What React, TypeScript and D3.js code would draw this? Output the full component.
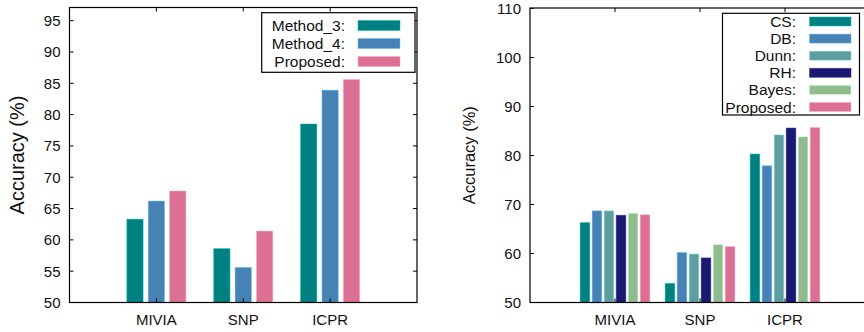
import React from 'react';
import * as d3 from 'd3';

const categories = ['MIVIA', 'SNP', 'ICPR'];

const leftSeries = ['Method_3', 'Method_4', 'Proposed'];
const leftColors = ['#008080', '#4682b4', '#db7093'];
const leftValues = [
  [63.3, 58.6, 78.5],
  [66.2, 55.6, 83.9],
  [67.8, 61.4, 85.6],
];
const leftTicks = [50, 55, 60, 65, 70, 75, 80, 85, 90, 95];

const rightSeries = ['CS', 'DB', 'Dunn', 'RH', 'Bayes', 'Proposed'];
const rightColors = ['#008080', '#4682b4', '#5f9ea0', '#191970', '#8fbc8f', '#db7093'];
const rightValues = [
  [66.3, 53.9, 80.3],
  [68.7, 60.2, 77.9],
  [68.7, 59.9, 84.2],
  [67.8, 59.1, 85.6],
  [68.2, 61.8, 83.8],
  [67.9, 61.4, 85.7],
];
const rightTicks = [50, 60, 70, 80, 90, 100, 110];

const FONT = '"Liberation Sans", Arial, Helvetica, sans-serif';

interface PanelProps {
  series: string[];
  colors: string[];
  values: number[][];
  ticks: number[];
  yMax: number;
  left: number;
  right: number;
  top: number;
  bottom: number;
  groupWidth: number;
  barPadding: number;
  labelX: number;
  labelSize: number;
  legend: { x0: number; x1: number; y0: number; y1: number; textX: number; sx: number; sw: number; sh: number; rowY0: number; rowStep: number };
}

const Panel: React.FC<PanelProps> = (p) => {
  const x = d3.scaleLinear().domain([-1, 3]).range([p.left, p.right]);
  const y = d3.scaleLinear().domain([50, p.yMax]).range([p.bottom, p.top]);
  const unit = x(1) - x(0);
  const band = d3.scaleBand<string>()
    .domain(p.series)
    .range([-p.groupWidth * unit / 2, p.groupWidth * unit / 2])
    .paddingInner(p.barPadding);
  const lg = p.legend;

  return (
    <g fontFamily={FONT}>
      {/* bars */}
      {p.series.map((s, si) =>
        categories.map((c, ci) => (
          <rect
            key={s + c}
            x={x(ci) + (band(s) || 0)}
            y={y(p.values[si][ci])}
            width={band.bandwidth()}
            height={y(50) - y(p.values[si][ci])}
            fill={p.colors[si]}
            stroke={d3.color(p.colors[si])!.brighter(1).formatHex()}
            strokeWidth={0.8}
            strokeOpacity={0.6}
          />
        ))
      )}
      {/* frame */}
      <rect x={p.left} y={p.top} width={p.right - p.left} height={p.bottom - p.top}
        fill="none" stroke="#000" strokeWidth={1.2} />
      {/* y ticks */}
      {p.ticks.map((t) => (
        <g key={t}>
          <line x1={p.left} x2={p.left + 4} y1={y(t)} y2={y(t)} stroke="#000" />
          <line x1={p.right} x2={p.right - 4} y1={y(t)} y2={y(t)} stroke="#000" />
          <text x={p.left - 9} y={y(t)} dy="0.36em" textAnchor="end" fontSize={15} fill="#111">{t}</text>
        </g>
      ))}
      {/* x ticks */}
      {categories.map((c, ci) => (
        <g key={c}>
          <line x1={x(ci)} x2={x(ci)} y1={p.top} y2={p.top + 4} stroke="#000" />
          <line x1={x(ci)} x2={x(ci)} y1={p.bottom} y2={p.bottom - 4} stroke="#000" />
          <text x={x(ci)} y={p.bottom + 22} textAnchor="middle" fontSize={15} fill="#111">{c}</text>
        </g>
      ))}
      {/* y label */}
      <text transform={`translate(${p.labelX},${(p.top + p.bottom) / 2}) rotate(-90)`}
        textAnchor="middle" dy="0.36em" fontSize={p.labelSize} fill="#111">Accuracy (%)</text>
      {/* legend */}
      <rect x={lg.x0} y={lg.y0} width={lg.x1 - lg.x0} height={lg.y1 - lg.y0}
        fill="#fff" stroke="#000" strokeWidth={1.2} />
      {p.series.map((s, si) => {
        const cy = lg.rowY0 + si * lg.rowStep;
        return (
          <g key={s}>
            <text x={lg.textX} y={cy} dy="0.36em" textAnchor="end" fontSize={15.5} fill="#111">{s}:</text>
            <rect x={lg.sx} y={cy - lg.sh / 2} width={lg.sw} height={lg.sh} fill={p.colors[si]}
              stroke={d3.color(p.colors[si])!.brighter(1).formatHex()} strokeWidth={0.8} strokeOpacity={0.6} />
          </g>
        );
      })}
    </g>
  );
};

const App: React.FC = () => (
  <svg width={864} height={332} style={{ position: 'absolute', left: 0, top: 0, background: '#fff' }}>
    <rect width={864} height={332} fill="#fff" />
    <Panel
      series={leftSeries}
      colors={leftColors}
      values={leftValues}
      ticks={leftTicks}
      yMax={97.1}
      left={69.5}
      right={417}
      top={7.5}
      bottom={302.5}
      groupWidth={0.68}
      barPadding={0.24}
      labelX={17}
      labelSize={20}
      legend={{ x0: 261.7, x1: 415, y0: 12.7, y1: 72.3, textX: 345, sx: 358, sw: 42, sh: 10, rowY0: 25.5, rowStep: 18 }}
    />
    <Panel
      series={rightSeries}
      colors={rightColors}
      values={rightValues}
      ticks={rightTicks}
      yMax={110.1}
      left={530}
      right={870}
      top={8}
      bottom={302.5}
      groupWidth={0.82}
      barPadding={0.2}
      labelX={469.5}
      labelSize={16.5}
      legend={{ x0: 722.5, x1: 859.5, y0: 13.3, y1: 115, textX: 796, sx: 809.5, sw: 41.5, sh: 9, rowY0: 21.5, rowStep: 17.1 }}
    />
  </svg>
);

export default App;
